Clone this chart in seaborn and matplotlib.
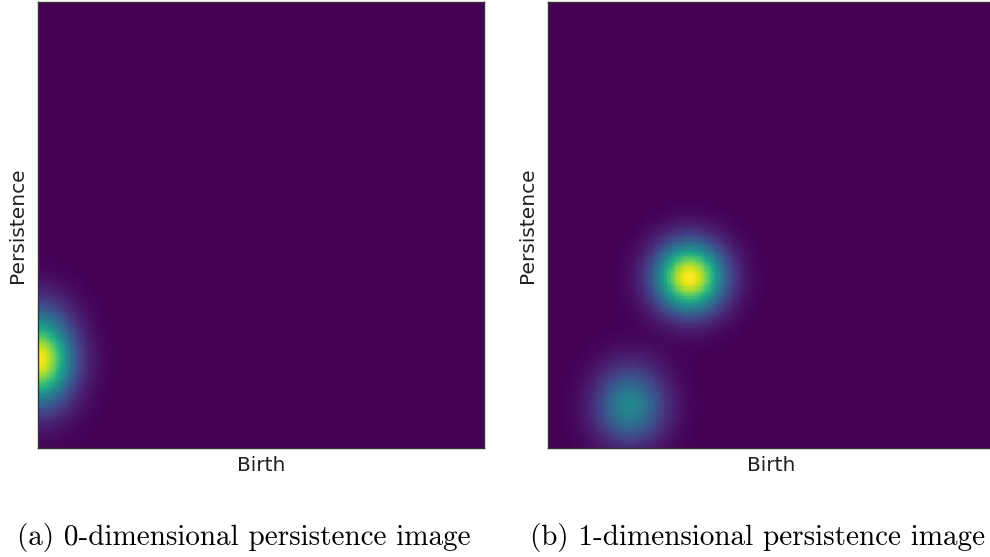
import numpy as np
import matplotlib
matplotlib.use("Agg")
import matplotlib.pyplot as plt
import seaborn as sns

# Persistence diagrams (normalized birth, persistence) and point weights
births_0 = [0.0, 0.0, 0.0]
pers_0 = [0.20, 0.13, 0.28]
weights_0 = [1.0, 0.28, 0.28]

births_1 = [0.318, 0.184, 0.186]
pers_1 = [0.383, 0.082, 0.135]
weights_1 = [1.0, 0.36, 0.14]

sigma = 0.053
resolution = 200

captions = ["(a) 0-dimensional persistence image", "(b) 1-dimensional persistence image"]
xlabel = "Birth"
ylabel = "Persistence"


def persistence_image(births, pers, weights):
    g = (np.arange(resolution) + 0.5) / resolution
    X, Y = np.meshgrid(g, g)
    Z = np.zeros_like(X)
    for b, p, w in zip(births, pers, weights):
        Z += w * np.exp(-((X - b) ** 2 + (Y - p) ** 2) / (2 * sigma ** 2))
    return Z / Z.max()


fig = plt.figure(figsize=(9.9, 5.57), dpi=100)
ax_pos = [[38 / 990, 109 / 557, 446 / 990, 446 / 557],
          [548 / 990, 109 / 557, 446 / 990, 446 / 557]]
data = [(births_0, pers_0, weights_0), (births_1, pers_1, weights_1)]
cap_x = [244 / 990, 758 / 990]

for pos, (b, p, w), cx, cap in zip(ax_pos, data, cap_x, captions):
    ax = fig.add_axes(pos)
    Z = persistence_image(b, p, w)
    sns.heatmap(Z[::-1], ax=ax, cmap="viridis", cbar=False,
                xticklabels=False, yticklabels=False, vmin=0, vmax=1)
    for sp in ax.spines.values():
        sp.set_visible(True)
        sp.set_color("#333333")
        sp.set_linewidth(1.0)
    ax.set_xlabel(xlabel, fontsize=14.5, labelpad=6, color="#222222")
    ax.set_ylabel(ylabel, fontsize=14.5, labelpad=8, color="#222222")
    fig.text(cx, 12 / 557, cap, ha="center", va="baseline",
             fontsize=21, family=["cmr10", "DejaVu Serif"])

fig.savefig("out.png", dpi=100)
